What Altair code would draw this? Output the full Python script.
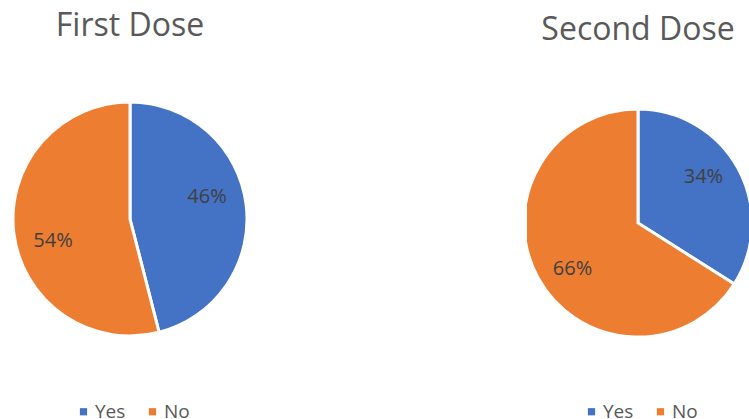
import altair as alt
import pandas as pd

categories = ["Yes", "No"]
titles = ["First Dose", "Second Dose"]
first_dose = [46, 54]
second_dose = [34, 66]
colors = ["#4472C4", "#ED7D31"]

FONT = "Open Sans"


def pie(title, values, width, height, cx, cy, radius, legend_x, legend_y,
        title_offset, label_rot):
    df = pd.DataFrame({
        "answer": categories,
        "value": values,
        "order": list(range(len(categories))),
        "label": [f"{v}%" for v in values],
    })
    base = alt.Chart(df).encode(
        theta=alt.Theta("value:Q", stack=True),
        order=alt.Order("order:Q"),
    )
    arcs = base.mark_arc(outerRadius=radius, stroke="white", strokeWidth=3, clip=True).encode(
        color=alt.Color(
            "answer:N",
            scale=alt.Scale(domain=categories, range=colors),
            sort=categories,
            legend=alt.Legend(
                title=None,
                orient="none",
                legendX=legend_x,
                legendY=legend_y,
                direction="horizontal",
                symbolType="square",
                symbolSize=52,
                symbolStrokeWidth=0,
                labelFontSize=19,
                labelFont=FONT,
                labelColor="#595959",
                labelOffset=2,
                columnPadding=17,
            ),
        ),
        x=alt.value(cx),
        y=alt.value(cy),
    )
    text = base.mark_text(radius=80, thetaOffset=label_rot, fontSize=20, font=FONT,
                          color="#404040").encode(
        text="label:N",
        x=alt.value(cx),
        y=alt.value(cy),
    )
    return alt.layer(arcs, text).properties(
        width=width,
        height=height,
        title=alt.TitleParams(
            title, fontSize=32, font=FONT, color="#595959", fontWeight="normal",
            anchor="middle", offset=title_offset,
        ),
    )


p1 = pie(titles[0], first_dose, 260, 320, 130, 160, 117, 74, 343, 16, -0.15)
p2 = pie(titles[1], second_dose, 222, 320, 111, 164, 114, 55, 343, 12, -0.11)

chart = (
    alt.hconcat(p1, p2, spacing=267, bounds="flush")
    .resolve_scale(color="independent")
    .properties(padding={"top": 10, "left": 0, "right": 0, "bottom": 0})
    .configure_view(stroke=None)
)

chart.save("out.html", embed_options={"renderer": "svg", "actions": False})
